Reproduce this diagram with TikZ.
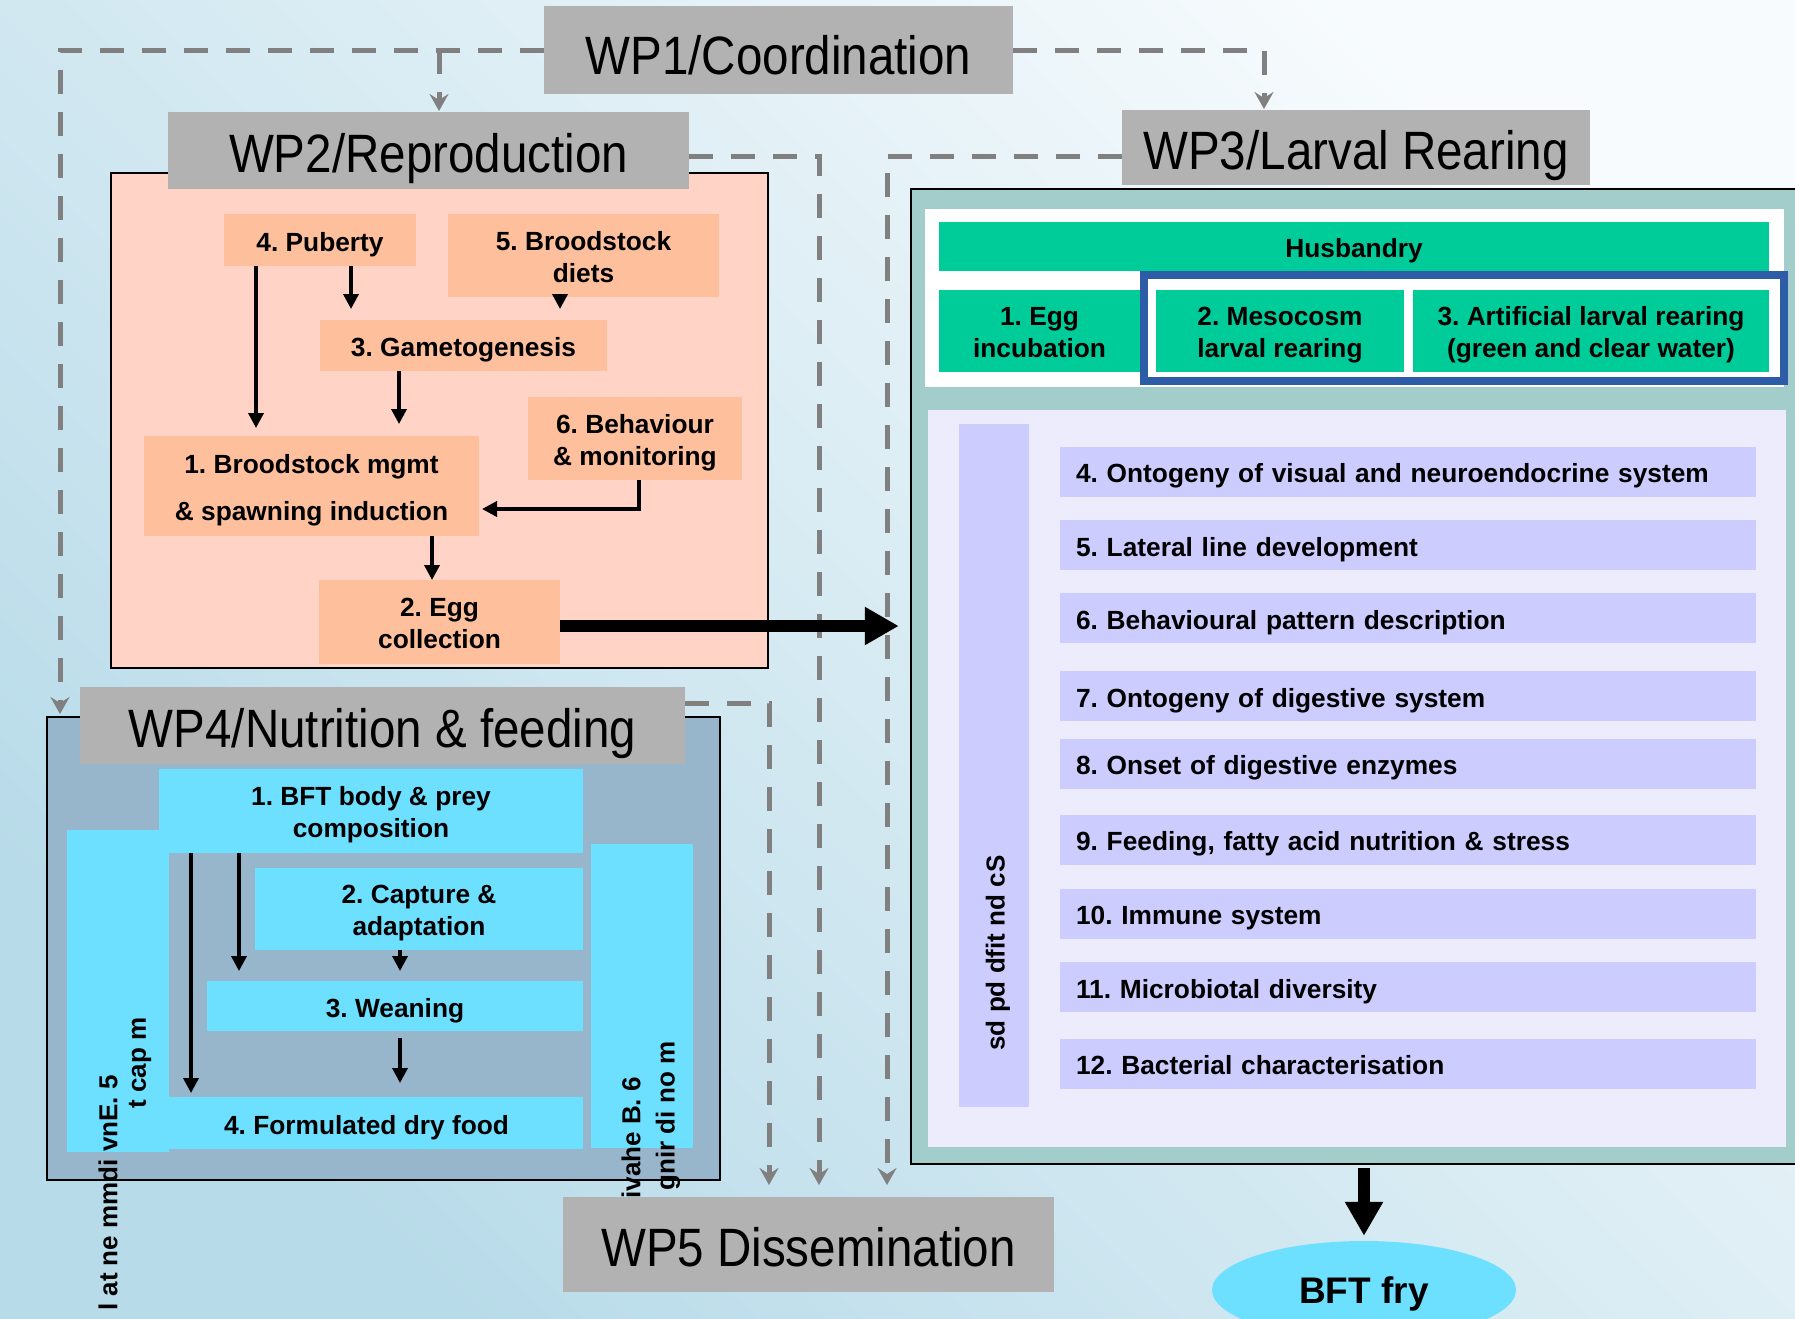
\documentclass[tikz,border=0pt]{standalone}
\usepackage{fontspec}
\setmainfont{Liberation Sans}
\usepackage{graphicx}
\usetikzlibrary{arrows.meta,shapes.geometric}
\definecolor{hdr}{HTML}{B2B2B2}
\definecolor{peach}{HTML}{FFD3C5}
\definecolor{salmon}{HTML}{FEBF9C}
\definecolor{tealp}{HTML}{A3CDCA}
\definecolor{grn}{HTML}{00CC99}
\definecolor{blu}{HTML}{2E5DA8}
\definecolor{lav}{HTML}{ECECFD}
\definecolor{purp}{HTML}{CCCCFF}
\definecolor{steel}{HTML}{98B6CB}
\definecolor{cyanb}{HTML}{6EE0FF}
\definecolor{dashc}{HTML}{808080}
\definecolor{bgA}{HTML}{B8DBE9}
\definecolor{bgB}{HTML}{F7FBFD}
\begin{document}
\begin{tikzpicture}[x=1pt,y=-1pt,
  base/.style={inner sep=0pt, outer sep=0pt, align=center, text height=23pt, text depth=0.4pt,
    font=\fontsize{26.3}{32}\selectfont\bfseries\frenchspacing},
  two/.style={text height=54pt, text depth=0.4pt},
  hdrbox/.style={fill=hdr, inner sep=0pt, outer sep=0pt, text height=45pt, text depth=0.3pt,
    font=\fontsize{54}{60}\selectfont},
  sbox/.style={base, fill=salmon},
  gbox/.style={base, fill=grn},
  cbox/.style={base, fill=cyanb},
  rowbox/.style={base, fill=purp, align=left, inner xsep=16pt, text width=664pt, minimum width=696pt, minimum height=50pt},
  garb/.style={inner sep=0pt, font=\fontsize{26}{32}\selectfont\bfseries, rotate=90},
  arr/.style={line width=3.5pt, -{Triangle[length=15pt,width=15pt]}},
  bigarr/.style={line width=12pt, -{Triangle[length=34pt,width=36pt]}},
  dl/.style={draw=dashc, line width=5pt, dash pattern=on 24pt off 18pt, -{Stealth[length=17pt,width=19pt,inset=6pt]}}
]
\useasboundingbox (0,0) rectangle (1795,1318);
\clip (0,0) rectangle (1795,1318);
\shade[top color=bgB, bottom color=bgA, shading angle=-45] (0,0) rectangle (1795,1318);

% WP1
\node[hdrbox, text height=49pt, minimum width=469pt, minimum height=88pt] (wp1) at (778.5,50) {\scalebox{0.88}[1]{WP1/Coordination}};

% WP2
\node[draw=black, line width=2pt, fill=peach, minimum width=657pt, minimum height=495pt, inner sep=0pt] (p2) at (439.5,420.5) {};
\node[hdrbox, minimum width=521pt, minimum height=77pt] (wp2) at (428.5,150.5) {\scalebox{0.88}[1]{WP2/Reproduction}};
\node[sbox, minimum width=192pt, minimum height=52pt] (pub) at (320,240) {4. Puberty};
\node[sbox, two, minimum width=271pt, minimum height=83pt] (diets) at (583.5,255.5) {5. Broodstock\\diets};
\node[sbox, minimum width=287pt, minimum height=51pt] (gam) at (463.5,345.5) {3. Gametogenesis};
\node[sbox, two, minimum width=214pt, minimum height=83pt] (beh) at (635,438.5) {6. Behaviour\\\& monitoring};
\node[sbox, text height=69pt, text depth=0pt, minimum width=335pt, minimum height=100pt] (bro) at (311.5,486) {1. Broodstock mgmt\\[15pt]\& spawning induction};
\node[sbox, two, minimum width=241pt, minimum height=84pt] (egg) at (439.5,622) {2. Egg\\collection};

% WP3
\node[draw=black, line width=2.5pt, fill=tealp, minimum width=894pt, minimum height=975pt, inner sep=0pt] (p3) at (1358,676.5) {};
\node[hdrbox, minimum width=468pt, minimum height=75pt] (wp3) at (1356,147.5) {\scalebox{0.88}[1]{WP3/Larval Rearing}};
\node[fill=white, minimum width=859pt, minimum height=178pt, inner sep=0pt] (wht) at (1354.5,298) {};
\node[gbox, minimum width=830pt, minimum height=49pt] (hus) at (1354,246.5) {Husbandry};
\node[draw=blu, line width=8pt, minimum width=640pt, minimum height=106pt, inner sep=0pt] (frm) at (1464,328) {};
\node[gbox, two, minimum width=201pt, minimum height=82pt] (inc) at (1039.5,331) {1. Egg\\incubation};
\node[gbox, two, minimum width=248pt, minimum height=82pt] (meso) at (1280,331) {2. Mesocosm\\larval rearing};
\node[gbox, two, minimum width=356pt, minimum height=82pt] (art) at (1591,331) {3. Artificial larval rearing\\(green and clear water)};
\node[fill=lav, minimum width=858pt, minimum height=737pt, inner sep=0pt] (lav) at (1357,778.5) {};
\node[fill=purp, minimum width=70pt, minimum height=683pt, inner sep=0pt] (pbar) at (994,765.5) {};
\node[rowbox] (r4) at (1408,471.5) {4. Ontogeny of visual and neuroendocrine system};
\node[rowbox] (r5) at (1408,545) {5. Lateral line development};
\node[rowbox] (r6) at (1408,618) {6. Behavioural pattern description};
\node[rowbox] (r7) at (1408,696) {7. Ontogeny of digestive system};
\node[rowbox] (r8) at (1408,763.5) {8. Onset of digestive enzymes};
\node[rowbox] (r9) at (1408,839.5) {9. Feeding, fatty acid nutrition \& stress};
\node[rowbox] (r10) at (1408,913.5) {10. Immune system};
\node[rowbox] (r11) at (1408,987) {11. Microbiotal diversity};
\node[rowbox] (r12) at (1408,1063.5) {12. Bacterial characterisation};
\node[garb] (g5) at (998,953) {sd pd dfit nd cS};

% WP4
\node[draw=black, line width=2pt, fill=steel, minimum width=673pt, minimum height=463pt, inner sep=0pt] (p4) at (383.5,948.5) {};
\node[hdrbox, minimum width=605pt, minimum height=77pt] (wp4) at (382.5,725.5) {\scalebox{0.88}[1]{WP4/Nutrition \& feeding}};
\node[cbox, two, minimum width=424pt, minimum height=84pt] (bft) at (371,811) {1. BFT body \& prey\\composition};
\node[cbox, minimum width=102pt, minimum height=322pt] (lbar) at (118,991) {};
\node[cbox, two, minimum width=328pt, minimum height=82pt] (cap) at (419,909) {2. Capture \&\\adaptation};
\node[cbox, minimum width=376pt, minimum height=50pt] (wean) at (395,1006) {3. Weaning};
\node[cbox, minimum width=433pt, minimum height=52pt] (form) at (366.5,1123) {4. Formulated dry food};
\node[cbox, minimum width=102pt, minimum height=304pt] (rbar) at (642,996) {};
\node[garb] (g1) at (108,1193) {l at ne mmdi vnE. 5};
\node[garb] (g2) at (140,1063) {t cap m};
\node[garb, anchor=east] (g3) at (631,1077) {ruoivahe B. 6};
\node[garb] (g4) at (668,1116) {gnir di no m};

% WP5
\node[hdrbox, minimum width=491pt, minimum height=95pt] (wp5) at (808.5,1244.5) {\scalebox{0.88}[1]{WP5 Dissemination}};

% BFT fry
\node[ellipse, fill=cyanb, minimum width=304pt, minimum height=98pt, inner sep=0pt, text height=26.5pt, text depth=0pt,
  font=\fontsize{37}{40}\selectfont\bfseries] (fry) at (1364,1290) {BFT fry};

% dashed coordination lines
\coordinate (k1) at (60,50);
\coordinate (k2) at (439,50);
\coordinate (k3) at (1264,50);
\coordinate (d2) at (819,1197);
\coordinate (d3) at (887,1197);
\coordinate (d4) at (769,1197);
\draw[dl, shorten >=2pt] (wp1.west) -- (k1) -- (k1 |- p4.north);
\draw[dl, shorten >=1pt] (k2) -- (k2 |- wp2.north);
\draw[dl, shorten >=1pt] (wp1.east) -- (k3) -- (k3 |- wp3.north);
\draw[dl, shorten >=12pt] ([yshift=-5.5pt]wp2.east) -| (d2);
\draw[dl, shorten >=12pt] ([yshift=-8.5pt]wp3.west) -| (d3);
\draw[dl, shorten >=12pt] ([yshift=22.5pt]wp4.east) -| (d4);

% WP2 arrows
\draw[arr, shorten >=8pt] ([xshift=32pt]pub.south west) -- ([xshift=112pt]bro.north west);
\draw[arr, shorten >=11pt] ([xshift=127pt]pub.south west) -- ([xshift=31pt]gam.north west);
\draw[arr, shorten >=11pt] ([xshift=112pt]diets.south west) -- ([xshift=240pt]gam.north west);
\draw[arr, shorten >=12pt] ([xshift=79pt]gam.south west) -- ([xshift=255pt]bro.north west);
\draw[arr, shorten >=3pt] ([xshift=111pt]beh.south west) |- ([yshift=-23pt]bro.east);
\draw[arr] ([xshift=288pt]bro.south west) -- ([xshift=113pt]egg.north west);

% WP4 arrows
\draw[arr, shorten >=4pt] ([xshift=32pt]bft.south west) -- ([xshift=41pt]form.north west);
\draw[arr, shorten >=10pt] ([xshift=80pt]bft.south west) -- ([xshift=32pt]wean.north west);
\draw[arr, shorten >=10pt] ([xshift=145pt]cap.south west) -- ([xshift=193pt]wean.north west);
\draw[arr, shorten <=7pt, shorten >=14pt] ([xshift=193pt]wean.south west) -- ([xshift=250pt]form.north west);

% big arrows
\coordinate (ea) at ([yshift=-4pt]egg.east);
\draw[bigarr, shorten >=11pt] (ea) -- (ea -| p3.west);
\draw[bigarr, shorten <=3pt, shorten >=5pt] (p3.south -| fry.north) -- (fry.north);
\end{tikzpicture}
\end{document}
